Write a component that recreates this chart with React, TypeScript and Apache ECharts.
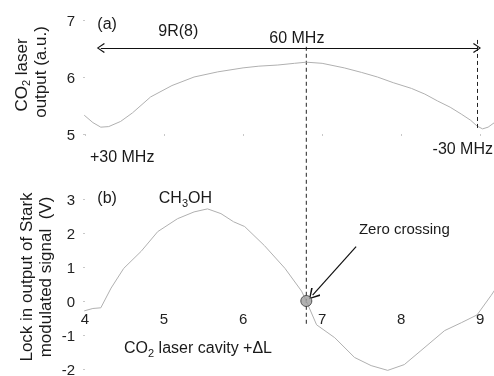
import React, { useEffect, useRef } from "react";
import * as echarts from "echarts";

// Panel (a): CO2 laser output vs cavity length
const xA = [3.99, 4.1, 4.2, 4.3, 4.45, 4.6, 4.83, 5.1, 5.38, 5.68, 6.0, 6.2, 6.44, 6.65, 6.8, 7.0, 7.28, 7.5, 7.7, 7.9, 8.13, 8.3, 8.46, 8.62, 8.76, 8.88, 8.96, 9.03, 9.1, 9.2];
const yA = [5.33, 5.2, 5.12, 5.13, 5.22, 5.37, 5.65, 5.85, 6.0, 6.09, 6.16, 6.19, 6.21, 6.24, 6.26, 6.24, 6.16, 6.08, 6.0, 5.9, 5.8, 5.7, 5.58, 5.47, 5.35, 5.24, 5.14, 5.09, 5.12, 5.22];

// Panel (b): Lock-in output of Stark modulated signal
const xB = [3.99, 4.1, 4.2, 4.33, 4.49, 4.71, 4.92, 5.17, 5.38, 5.55, 5.72, 5.88, 6.02, 6.27, 6.53, 6.74, 6.8, 6.93, 7.16, 7.41, 7.62, 7.83, 8.04, 8.25, 8.55, 8.76, 8.96, 9.14, 9.2];
const yB = [-0.29, -0.22, -0.2, 0.38, 0.96, 1.46, 2.04, 2.42, 2.62, 2.71, 2.57, 2.33, 2.19, 1.63, 0.96, 0.29, 0, -0.7, -1.08, -1.66, -1.9, -2.04, -1.87, -1.46, -0.87, -0.64, -0.41, 0.17, 0.38];

const yTicksA = [5, 6, 7];
const yTicksB = [-2, -1, 0, 1, 2, 3];
const xTicks = [4, 5, 6, 7, 8, 9];

// annotation anchors (data units)
const lineCenterX = 6.8; // 60 MHz / zero crossing
const lineLeftX = 4.2; // +30 MHz
const lineRightX = 8.96; // -30 MHz
const arrowY = 6.51;
const zeroPoint = [6.8, 0];

const FONT = "'Liberation Sans', Arial, Helvetica, sans-serif";
const CHEVRON = "path://M5,0 L10,9 L9,10 L5,2.2 L1,10 L0,9 Z";
const GRID_A = { left: 85, top: 20, width: 411, height: 114, outerBoundsMode: "none" };
const GRID_B = { left: 85, top: 199, width: 411, height: 170, outerBoundsMode: "none" };

export default function App() {
  const ref = useRef<HTMLDivElement>(null);
  useEffect(() => {
    if (!ref.current) return;
    const chart = echarts.init(ref.current, null, { renderer: "svg" });
    const dataA = xA.map((x, i) => [x, yA[i]]);
    const dataB = xB.map((x, i) => [x, yB[i]]);
    const tickFmt = (v: number) => (xTicks.includes(v) ? String(v) : "");
    const option: any = {
      animation: false,
      textStyle: { fontFamily: FONT },
      grid: [GRID_A, GRID_B],
      xAxis: [
        {
          gridIndex: 0, type: "value", min: 4, max: 9.2, interval: 1,
          axisLine: { show: false }, axisLabel: { show: false },
          axisTick: { show: true, length: 2, lineStyle: { color: "#c8c8c8" } },
          splitLine: { show: false },
        },
        {
          gridIndex: 1, type: "value", min: 4, max: 9.2, interval: 1, position: "bottom",
          axisLine: { show: false, onZero: false },
          axisTick: { show: false },
          axisLabel: { formatter: tickFmt, fontSize: 15, color: "#222", margin: 10, fontFamily: FONT },
          splitLine: { show: false },
        },
      ],
      yAxis: [
        {
          gridIndex: 0, type: "value", min: yTicksA[0], max: yTicksA[yTicksA.length - 1], interval: 1,
          axisLine: { show: false },
          axisTick: { show: true, length: 2, lineStyle: { color: "#c8c8c8" } },
          axisLabel: { fontSize: 15, color: "#222", margin: 10, fontFamily: FONT },
          splitLine: { show: false },
        },
        {
          gridIndex: 1, type: "value", min: yTicksB[0], max: yTicksB[yTicksB.length - 1], interval: 1,
          axisLine: { show: false },
          axisTick: { show: true, length: 2, lineStyle: { color: "#c8c8c8" } },
          axisLabel: { fontSize: 15, lineHeight: 11, color: "#222", margin: 10, fontFamily: FONT },
          splitLine: { show: false },
        },
      ],
      series: [
        {
          type: "line", xAxisIndex: 0, yAxisIndex: 0, data: dataA, symbol: "none", clip: false,
          lineStyle: { color: "#b0b0b0", width: 1 },
          markLine: {
            silent: true, symbol: ["none", "none"], label: { show: false },
            lineStyle: { type: [4, 3], color: "#222", width: 1 },
            data: [
              [{ coord: [lineLeftX, arrowY] }, { coord: [lineLeftX, 4.95] }],
              [{ coord: [lineRightX, 6.65] }, { coord: [lineRightX, 5.07] }],
            ],
          },
        },
        {
          type: "line", xAxisIndex: 0, yAxisIndex: 0, data: [], clip: false,
          markLine: {
            silent: true, symbol: [CHEVRON, CHEVRON], symbolSize: [10, 8], label: { show: false },
            lineStyle: { type: "solid", color: "#111", width: 1.2 },
            data: [[{ coord: [lineLeftX, arrowY] }, { coord: [lineRightX, arrowY] }]],
          },
        },
        {
          type: "line", xAxisIndex: 1, yAxisIndex: 1, data: dataB, symbol: "none", clip: false,
          lineStyle: { color: "#b0b0b0", width: 1 },
        },
        {
          type: "line", xAxisIndex: 1, yAxisIndex: 1, data: [], clip: false,
          markLine: {
            silent: true, symbol: ["none", CHEVRON], symbolSize: [12, 11], label: { show: false },
            lineStyle: { type: "solid", color: "#111", width: 1.2 },
            data: [[{ coord: [7.43, 1.6] }, { coord: [6.88, 0.17] }]],
          },
        },
        {
          type: "scatter", xAxisIndex: 1, yAxisIndex: 1, data: [zeroPoint], symbolSize: 11, clip: false,
          itemStyle: { color: "#9c9c9c", borderColor: "#333", borderWidth: 1 },
          z: 5,
        },
      ],
    };
    chart.setOption(option);

    const pa = (x: number, y: number) => chart.convertToPixel({ gridIndex: 0 }, [x, y]) as number[];
    const pb = (x: number, y: number) => chart.convertToPixel({ gridIndex: 1 }, [x, y]) as number[];
    const sub = { s: { fontSize: 11, lineHeight: 11, verticalAlign: "bottom", fontFamily: FONT, fill: "#1a1a1a" } };
    const txt = (p: number[], text: string, size = 16, align = "center") => ({
      type: "text", x: p[0], y: p[1], silent: true,
      style: { text, fontSize: size, lineHeight: 21, fontFamily: FONT, fill: "#1a1a1a", align, verticalAlign: "middle", rich: sub },
    });
    const top = pa(lineCenterX, 6.53);
    const bot = pb(lineCenterX, -0.67);
    const rot = (x: number, y: number, text: string) => ({
      type: "text", x, y, rotation: Math.PI / 2, silent: true,
      style: { text, fontSize: 17, lineHeight: 21, fontFamily: FONT, fill: "#1a1a1a", align: "center", verticalAlign: "middle", rich: sub },
    });
    const right = chart.getWidth() - 1;
    // place panel (b) x-axis (labels) on the zero line
    const zeroY = pb(4, 0)[1];
    const gridBottom = GRID_B.top + GRID_B.height;
    chart.setOption({
      xAxis: [{}, { offset: -(gridBottom - zeroY) }],
      graphic: [
        { type: "line", silent: true, shape: { x1: top[0], y1: top[1], x2: bot[0], y2: bot[1] }, style: { stroke: "#222", lineWidth: 1, lineDash: [4, 3] } },
        txt(pa(4.28, 6.93), "(a)"),
        txt(pa(5.18, 6.82), "9R(8)"),
        txt(pa(6.68, 6.7), "60 MHz"),
        txt(pa(4.47, 4.61), "+30 MHz"),
        txt([right, pa(8.52, 4.74)[1]], "-30 MHz", 16, "right"),
        txt(pb(4.28, 3.04), "(b)"),
        txt(pb(5.27, 3.04), "CH{s|3}OH"),
        txt(pb(8.04, 2.13), "Zero crossing", 15),
        txt(pb(5.43, -1.37), "CO{s|2} laser cavity +ΔL"),
        rot(21, 75, "CO{s|2} laser"),
        rot(40, 72, "output (a.u.)"),
        rot(26, 277, "Lock in output of Stark"),
        rot(45, 277, "modulated signal  (V)"),
      ],
    });
    return () => chart.dispose();
  }, []);
  return <div ref={ref} style={{ position: "fixed", left: 0, top: 0, width: 494, height: 376 }} />;
}
